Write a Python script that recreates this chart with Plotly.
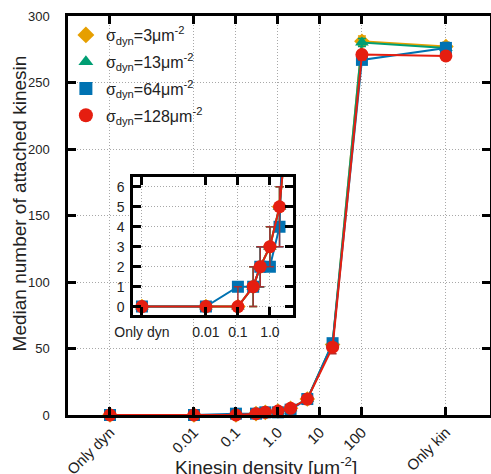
import numpy as np
import plotly.graph_objects as go

# ---- data ----
densities = ["Only dyn", "0.01", "0.1", "0.3", "0.5", "1.0", "2.0", "5.0", "20", "100", "Only kin"]
main_tick_labels = ["Only dyn", "0.01", "0.1", "1.0", "10", "100", "Only kin"]
inset_tick_labels = ["Only dyn", "0.01", "0.1", "1.0"]

series_names = ["σ<sub>dyn</sub>=3μm<sup>-2</sup>", "σ<sub>dyn</sub>=13μm<sup>-2</sup>",
                "σ<sub>dyn</sub>=64μm<sup>-2</sup>", "σ<sub>dyn</sub>=128μm<sup>-2</sup>"]
sigma3 = [0, 0, 0, 1, 2, 3, 5, 12, 53, 281, 277]
sigma13 = [0, 0, 0, 1, 2, 3, 5, 12, 54, 280, 276]
sigma64 = [0, 0, 1, 1, 2, 2, 4, 12, 54, 267, 276]
sigma128 = [0, 0, 0, 1, 2, 3, 5, 12, 51, 271, 270]

err3_plus = [0, 0, 0, 1, 1, 1, 1, 1, 3, 4, 3]
err3_minus = [0, 0, 0, 1, 1, 1, 1, 1, 3, 3, 3]
err13_plus = [0, 0, 0, 1, 1, 1, 1, 1, 3, 3, 3]
err13_minus = [0, 0, 0, 1, 1, 1, 1, 1, 3, 3, 3]
err64_plus = [0, 0, 0, 0, 1, 0, 1, 1, 3, 3, 4]
err64_minus = [0, 0, 0, 0, 1, 0, 1, 1, 3, 3, 3]
err128_plus = [0, 0, 1, 1, 1, 1, 1, 1, 3, 3, 3]
err128_minus = [0, 0, 0, 1, 1, 1, 2, 1, 5, 4, 3]


def position(label):
    if label == "Only dyn":
        return -4.0
    if label == "Only kin":
        return 4.0
    return float(np.log10(float(label)))


xpos = [position(d) for d in densities]
main_tickvals = [position(t) for t in main_tick_labels]
inset_tickvals = [position(t) for t in inset_tick_labels]

styles = [
    dict(color="#E69F00", symbol="diamond", size=12, ecolor="#E69F00"),
    dict(color="#009E73", symbol="triangle-up", size=12, ecolor="#009E73"),
    dict(color="#0072B2", symbol="square", size=12, ecolor="#0072B2"),
    dict(color="#E51E10", symbol="circle", size=13, ecolor="#A83030"),
]
values = [sigma3, sigma13, sigma64, sigma128]
eplus = [err3_plus, err13_plus, err64_plus, err128_plus]
eminus = [err3_minus, err13_minus, err64_minus, err128_minus]

fig = go.Figure()
for i, (name, vals, ep, em, st) in enumerate(zip(series_names, values, eplus, eminus, styles)):
    common = dict(
        x=xpos, y=vals, mode="lines+markers",
        line=dict(color=st["color"], width=2),
        marker=dict(color=st["color"], symbol=st["symbol"], size=st["size"], line=dict(width=0)),
        error_y=dict(type="data", array=ep, arrayminus=em, color=st["ecolor"], thickness=1.5, width=4),
        showlegend=False,
    )
    fig.add_trace(go.Scatter(name=name, xaxis="x", yaxis="y", cliponaxis=False, **common))
    fig.add_trace(go.Scatter(name=name, xaxis="x2", yaxis="y2", cliponaxis=True, **common))
    # legend entry: marker only
    fig.add_trace(go.Scatter(name=name, x=[None], y=[None], mode="markers", legendgroup=f"g{i}",
                             marker=dict(color=st["color"], symbol=st["symbol"], size=st["size"] + 1),
                             showlegend=True))

font_family = "Liberation Sans, Arial, sans-serif"
grid = dict(showgrid=True, gridcolor="#a8a8a8", griddash="1px,2px", gridwidth=1, zeroline=False,
            showline=True, linecolor="black", linewidth=2.5, mirror="ticks", automargin=False,
            ticks="inside", ticklen=8, tickwidth=2.5, tickcolor="black")

fig.update_layout(
    width=491, height=474,
    margin=dict(l=68, r=1, t=16, b=59, autoexpand=False),
    paper_bgcolor="white", plot_bgcolor="white",
    font=dict(family=font_family, size=14, color="#222"),
    showlegend=True,
    legend=dict(x=-0.005, y=0.995, xanchor="left", yanchor="top", bgcolor="rgba(0,0,0,0)",
                font=dict(size=16), tracegroupgap=3, itemsizing="trace"),
    xaxis=dict(range=[-5, 5.05], tickvals=main_tickvals, ticktext=main_tick_labels,
               tickangle=-45, ticklabelstandoff=0, domain=[0, 1], tickfont=dict(size=15), **grid),
    yaxis=dict(range=[0, 300], tickvals=[0, 50, 100, 150, 200, 250, 300],
               ticklabelstandoff=13, domain=[0, 1], tickfont=dict(size=13), **grid),
    xaxis2=dict(range=[-4.28, 0.72], tickvals=inset_tickvals, ticktext=inset_tick_labels,
                tickangle=0, anchor="y2", domain=[0.154, 0.533], ticklabelstandoff=2,
                tickfont=dict(size=14), **grid),
    yaxis2=dict(range=[-0.42, 6.5], tickvals=[0, 1, 2, 3, 4, 5, 6], anchor="x2",
                domain=[0.2506, 0.597], ticklabelstandoff=3, tickfont=dict(size=14), **grid),
    shapes=[dict(type="rect", xref="x2 domain", yref="y2 domain", x0=0, x1=1, y0=0, y1=1,
                 fillcolor="white", line=dict(width=0), layer="below")],
    annotations=[
        dict(text="Kinesin density [μm<sup>-2</sup>]", xref="paper", yref="paper",
             x=0.469, y=-0.128, xanchor="center", yanchor="middle", showarrow=False,
             font=dict(size=19)),
        dict(text="Median number of attached kinesin", xref="paper", yref="paper",
             x=-0.114, y=0.53, xanchor="center", yanchor="middle", showarrow=False,
             textangle=-90, font=dict(size=19)),
    ],
)

fig.write_html("out.html")
